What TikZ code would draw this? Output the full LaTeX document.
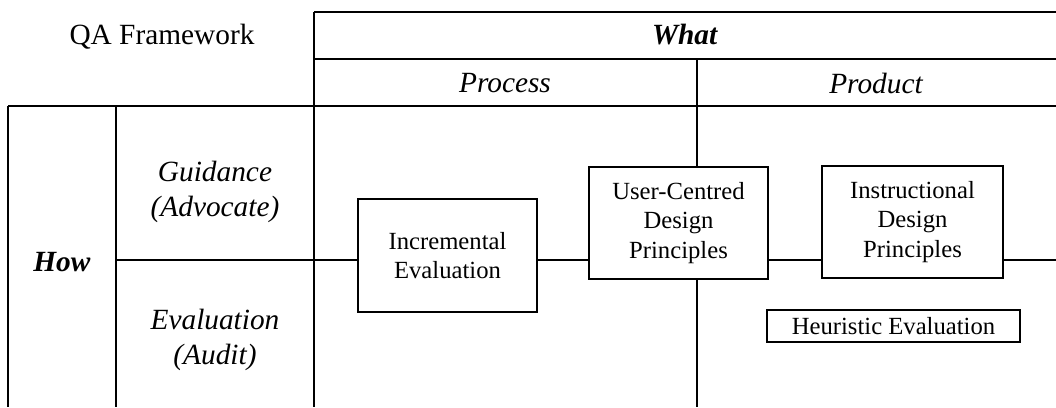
\documentclass[tikz,border=0pt]{standalone}
\usepackage{fontspec}
\setmainfont{Liberation Serif}
\begin{document}
\begin{tikzpicture}[x=0.75pt,y=-0.75pt,
  rule/.style={line width=0.8pt},
  dbl/.style={line width=1.6pt},
  hdr/.style={inner sep=0pt,font=\fontsize{22}{26}\selectfont,align=center},
  box/.style={draw,line width=1.1pt,inner sep=0pt,align=center,font=\fontsize{18.5}{22}\selectfont},
  conn/.style={line width=0.8pt}]
\useasboundingbox (0,0) rectangle (1056,407);
% grid
\coordinate (tl) at (314,12);
\coordinate (tr) at (1056,12);
\coordinate (ml) at (314,59);
\coordinate (mr) at (1056,59);
\coordinate (hl) at (8,106);
\coordinate (hr) at (1056,106);
\coordinate (bl) at (314,407);
\coordinate (c1t) at (8,106);
\coordinate (c1b) at (8,407);
\coordinate (c2t) at (116,106);
\coordinate (c2b) at (116,407);
\coordinate (pvt) at (697,59);
\coordinate (pvb) at (697,407);
\coordinate (hw) at (116,260);
\coordinate (he) at (1056,260);
\draw[rule] (tl) -- (tr);
\draw[rule] (ml) -- (mr);
\draw[rule] (c1t) -- (c1b);
\draw[rule] (c2t) -- (c2b);
\draw[dbl] (hl) -- (hr);
\draw[dbl] (tl) -- (bl);
% labels
\node[hdr] (qa) at (162,37) {QA Framework};
\node[hdr] (what) at (685,35) {\textbf{\itshape What}};
\node[hdr] (proc) at (505,83) {\itshape Process};
\node[hdr] (prod) at (876,83) {\itshape Product};
\node[hdr] (how) at (62,262) {\textbf{\itshape How}};
\node[hdr] (guid) at (215,192) {\itshape Guidance\\\itshape (Advocate)};
\node[hdr] (eval) at (215,340) {\itshape Evaluation\\\itshape (Audit)};
% boxes
\node[box,minimum width=134.25pt,minimum height=84.75pt] (ie) at (447.5,255.5) {Incremental\\Evaluation};
\node[box,minimum width=134.25pt,minimum height=84pt] (uc) at (678.5,223) {User-Centred\\Design\\Principles};
\node[box,minimum width=135.75pt,minimum height=84pt] (idp) at (912.5,222) {Instructional\\Design\\Principles};
\node[box,minimum width=189.75pt,minimum height=24pt] (heu) at (893.5,326) {Heuristic Evaluation};
% connectors
\draw[conn] (hw) -- (hw -| ie.west);
\draw[conn] (ie.east |- hw) -- (uc.west |- hw);
\draw[conn] (uc.east |- hw) -- (idp.west |- hw);
\draw[conn] (idp.east |- hw) -- (he);
\draw[conn] (pvt) -- (pvt |- uc.north);
\draw[conn] (pvt |- uc.south) -- (pvb);
\end{tikzpicture}
\end{document}
